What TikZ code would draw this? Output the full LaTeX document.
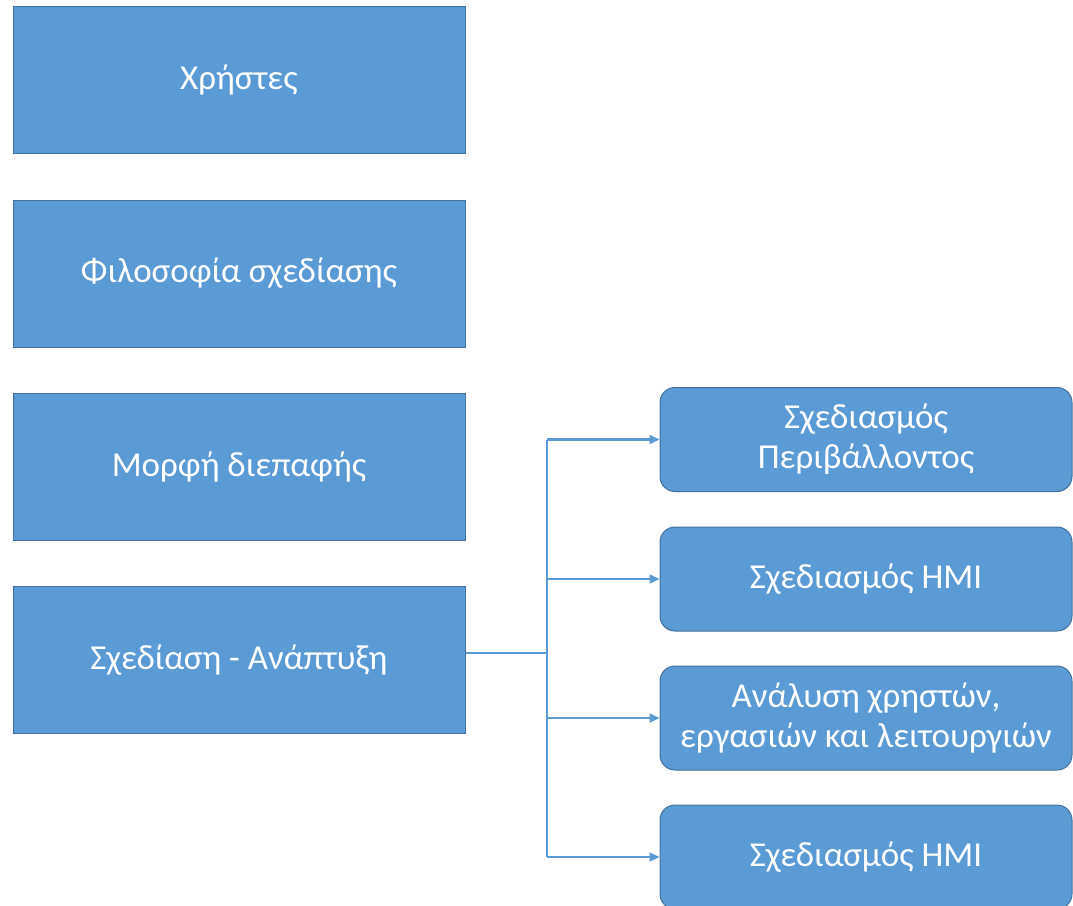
\documentclass[tikz,border=0pt]{standalone}
\usepackage{fontspec}
\setmainfont{Carlito}
\usetikzlibrary{arrows.meta}
\definecolor{boxfill}{HTML}{5B9BD5}
\definecolor{boxline}{HTML}{41719C}
\begin{document}
\begin{tikzpicture}[x=1pt,y=-1pt,
  leftbox/.style={draw=boxline, line width=1pt, fill=boxfill, minimum width=452pt, minimum height=147pt, text=white, font=\fontsize{35}{40}\selectfont, inner sep=0pt},
  rightbox/.style={draw=boxline, line width=1pt, fill=boxfill, rounded corners=15pt, minimum width=412pt, minimum height=104pt, text=white, font=\fontsize{35}{40}\selectfont, align=center, inner sep=0pt},
  conn/.style={draw=boxfill, line width=2.2pt},
  arr/.style={conn, -{Triangle[length=10pt,width=9pt]}}]
\useasboundingbox (0,0) rectangle (1073,905);
\node[leftbox] (a) at (239,80) {Χρήστες};
\node[leftbox] (b) at (239,273.5) {Φιλοσοφία σχεδίασης};
\node[leftbox] (c) at (239,466.5) {Μορφή διεπαφής};
\node[leftbox] (d) at (239,660) {Σχεδίαση - Ανάπτυξη};
\node[rightbox] (r1) at (866,439.5) {Σχεδιασμός\\Περιβάλλοντος};
\node[rightbox] (r2) at (866,579) {Σχεδιασμός HMI};
\node[rightbox] (r3) at (866,718) {Ανάλυση χρηστών,\\εργασιών και λειτουργιών};
\node[rightbox] (r4) at (866,857) {Σχεδιασμός HMI};
\coordinate (j) at (547,653);
\draw[conn] (d.east |- j) -- (j);
\draw[conn] (547,439.5) -- (547,857);
\draw[arr] (547,439.5) -- (r1.west);
\draw[arr] (547,579) -- (r2.west);
\draw[arr] (547,718) -- (r3.west);
\draw[arr] (547,857) -- (r4.west);
\end{tikzpicture}
\end{document}
